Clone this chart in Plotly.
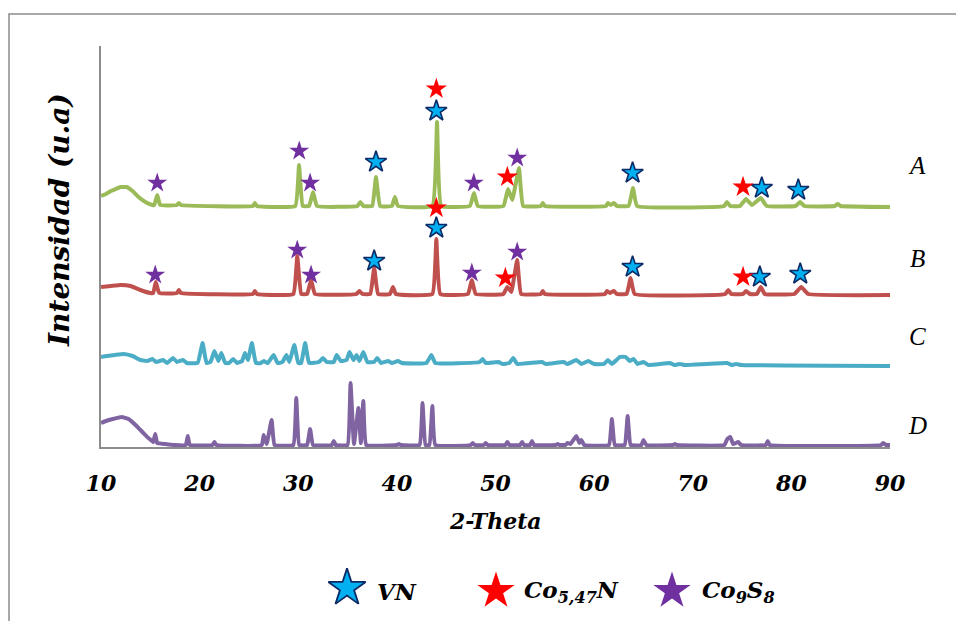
import plotly.graph_objects as go

# ---------------- data (2-theta, intensity in arbitrary units incl. offset) -------------
a_x = [10, 10.5, 11, 11.5, 12, 12.6, 13.2, 13.8, 14.5, 15.2,
       15.4, 15.7, 16.0, 17.7, 17.9, 18.1, 25.4, 25.6, 25.8,
       29.7, 30.08, 30.45, 31.1, 31.5, 31.9, 36.0, 36.3, 36.6,
       37.5, 37.88, 38.3, 39.5, 39.8, 40.1, 43.6, 44.07, 44.5,
       47.4, 47.82, 48.2, 50.8, 51.27, 51.7, 52.38, 52.8,
       54.6, 54.8, 55.0, 61.2, 61.4, 61.7, 62.0, 62.3,
       63.5, 63.94, 64.35, 73.2, 73.47, 73.8, 74.8, 75.4, 76.0, 76.9, 77.5,
       80.4, 80.9, 81.3, 84.4, 84.7, 85.0, 90]
a_y = [251, 253, 256, 258, 260, 260, 256, 250, 245, 242,
       242, 252, 242, 242, 244, 242, 241, 244, 241,
       241, 282, 241, 241, 255, 241, 241, 245, 241,
       241, 270, 241, 241, 250, 241, 241, 325, 241,
       241, 254, 241, 241, 258, 247, 279, 241,
       241, 244, 241, 241, 244, 242, 244, 241,
       241, 259, 241, 241, 245, 241, 241, 248, 242, 249, 241,
       241, 245, 241, 241, 243, 241, 240]

b_x = [10, 11, 12, 13, 14, 15, 15.3, 15.55, 15.9, 17.7, 17.9, 18.1,
       25.4, 25.6, 25.8, 29.5, 29.9, 30.3, 30.9, 31.3, 31.7,
       35.9, 36.2, 36.5, 37.3, 37.7, 38.1, 39.3, 39.6, 39.9,
       43.6, 44.0, 44.4, 47.2, 47.6, 48.0, 50.8, 51.2, 51.6, 52.2, 52.6,
       54.6, 54.8, 55.0, 61.1, 61.3, 61.6, 62.0, 62.3, 63.3, 63.7, 64.1,
       73.3, 73.6, 73.9, 75.1, 75.4, 75.8, 76.5, 76.9, 77.3,
       80.3, 81.0, 81.7, 90]
b_y = [160, 161, 162, 161, 157, 154, 154, 165, 154, 154, 157, 154,
       153, 156, 153, 153, 191, 153, 153, 167, 153,
       153, 156, 153, 153, 179, 153, 153, 160, 153,
       153, 208, 153, 153, 167, 153, 153, 160, 155, 187, 153,
       153, 156, 153, 153, 156, 154, 156, 153, 153, 169, 153,
       153, 157, 153, 153, 156, 153, 153, 160, 153,
       153, 160, 153, 152]

c_x = [10, 10.6, 11.4, 12.3, 13.2, 14.0, 14.7, 15.2, 15.6, 16.3, 16.7, 17.3, 17.7,
       18.3, 18.7, 19.8, 20.3, 20.7, 21.1, 21.5, 21.9, 22.2, 22.6, 23.0, 23.4, 23.8,
       24.3, 24.6, 24.9, 25.3, 25.7, 26.2, 26.5, 26.9, 27.5, 27.9, 28.4, 28.8, 29.1,
       29.6, 30.0, 30.3, 30.7, 31.1, 32.1, 32.5, 32.9, 33.6, 33.9, 34.3, 34.9, 35.2,
       35.6, 35.9, 36.2, 36.6, 37.0, 37.7, 38.0, 38.4, 39.1, 39.5, 40.1, 40.5,
       43.0, 43.5, 43.9, 48.4, 48.7, 49.0, 50.3, 50.7, 51.4, 51.8, 52.2, 54.7, 55.1,
       56.9, 57.3, 58.2, 58.7, 59.4, 60.0, 61.0, 61.4, 61.8, 62.6, 63.2, 63.6, 64.0,
       64.4, 65.0, 65.5, 67.7, 68.1, 68.7, 69.2, 73.5, 73.9, 74.4, 74.9, 90]
c_y = [90, 91, 92, 93, 91, 87, 86, 88, 85, 87, 84, 89, 85,
       87, 84, 84, 104, 84, 85, 96, 86, 94, 84, 84, 88, 84,
       86, 94, 87, 104, 84, 84, 86, 84, 92, 84, 85, 92, 85,
       102, 84, 84, 104, 84, 85, 89, 85, 85, 92, 86, 87, 95,
       87, 92, 86, 95, 85, 85, 89, 84, 86, 84, 86, 84,
       84, 92, 84, 85, 88, 84, 85, 83, 84, 89, 83, 85, 83,
       85, 83, 87, 83, 86, 83, 83, 87, 83, 90, 90, 86, 88,
       83, 85, 82, 84, 82, 83, 82, 84, 82, 83, 82, 81]

d_x = [10, 10.5, 11.2, 12.1, 12.8, 13.5, 14.2, 14.8, 15.2, 15.3, 15.5, 15.7, 16.5, 17.5,
       18.6, 18.8, 19.0, 21.3, 21.5, 21.7, 26.3, 26.5, 26.8, 27.3, 27.6,
       29.5, 29.8, 30.1, 30.9, 31.2, 31.5, 33.4, 33.6, 33.8,
       35.0, 35.3, 35.65, 36.1, 36.35, 36.6, 36.9, 40.0, 40.2, 40.4,
       42.3, 42.6, 42.9, 43.3, 43.6, 43.9, 47.5, 47.7, 47.9, 48.8, 49.0, 49.2,
       51.0, 51.2, 51.4, 52.5, 52.7, 52.9, 53.5, 53.7, 53.9,
       56.1, 56.3, 56.5, 57.1, 57.3, 57.6, 58.2, 58.5, 58.7, 59.0,
       61.5, 61.8, 62.1, 63.1, 63.4, 63.7, 64.8, 65.0, 65.3, 68.0, 68.2, 68.4,
       73.2, 73.5, 73.8, 74.1, 74.6, 74.9, 77.4, 77.6, 77.8, 89.1, 89.3, 89.6, 90]
d_y = [24, 26, 28, 30, 28, 22, 15, 9, 6, 5, 13, 4, 3, 2,
       2, 11, 2, 2, 5, 2, 2, 12, 3, 27, 2,
       2, 49, 2, 2, 18, 2, 2, 6, 2,
       2, 64, 3, 39, 4, 46, 2, 2, 3, 2,
       2, 44, 2, 2, 41, 2, 2, 4, 2, 2, 4, 2,
       2, 5, 2, 2, 5, 2, 2, 6, 2,
       2, 3, 2, 2, 4, 3, 11, 4, 7, 2,
       2, 28, 2, 2, 31, 2, 2, 7, 2, 2, 3, 2,
       2, 8, 10, 3, 5, 2, 2, 6, 2, 2, 4, 2, 2]

# phase markers (stars) for patterns A and B
vn_x = [37.88, 44.0, 63.9, 77.0, 80.7, 37.7, 44.0, 63.9, 76.8, 80.9]
vn_y = [285, 336, 274, 259, 257, 186, 219, 180, 170, 173]
con_x = [44.0, 51.2, 75.1, 44.0, 51.0, 75.1]
con_y = [358, 270, 260, 239, 169, 170]
cos_x = [15.7, 30.1, 31.2, 47.8, 52.2, 15.5, 29.9, 31.3, 47.6, 52.2]
cos_y = [264, 296, 264, 264, 289, 172, 197, 172, 174, 195]

x_ticks = [10, 20, 30, 40, 50, 60, 70, 80, 90]
pattern_labels = ["A", "B", "C", "D"]
legend_names = ["VN", "Co<sub>5,47</sub>N", "Co<sub>9</sub>S<sub>8</sub>"]

# ---------------- styling ----------------
GREEN, RED, TEAL, PURPLE = "#9BBB59", "#C0504D", "#4BACC6", "#8064A2"
VN_FILL, VN_EDGE = "#00B0F0", "#0B2A66"
CON_FILL, COS_FILL = "#FF0000", "#7030A0"
GRID = "#8C8C8C"
SERIF = "DejaVu Serif"

W, H = 956, 621
ML, MR, MT, MB = 101, 66, 46, 10
PW, PH = W - ML - MR, H - MT - MB


def xp(px):
    return (px - ML) / PW


def yp(py):
    return (H - MB - py) / PH


fig = go.Figure()
for xs, ys, col in [(a_x, a_y, GREEN), (b_x, b_y, RED), (c_x, c_y, TEAL), (d_x, d_y, PURPLE)]:
    fig.add_trace(go.Scatter(x=xs, y=ys, mode="lines",
                             line=dict(color=col, width=4, shape="spline", smoothing=0.3),
                             showlegend=False, hoverinfo="skip"))

fig.add_trace(go.Scatter(x=cos_x, y=cos_y, mode="markers", showlegend=False,
                         marker=dict(symbol="star", size=15, color=COS_FILL, line=dict(width=0))))
fig.add_trace(go.Scatter(x=vn_x, y=vn_y, mode="markers", showlegend=False,
                         marker=dict(symbol="star", size=16, color=VN_FILL,
                                     line=dict(width=1.6, color=VN_EDGE))))
fig.add_trace(go.Scatter(x=con_x, y=con_y, mode="markers", showlegend=False,
                         marker=dict(symbol="star", size=16, color=CON_FILL, line=dict(width=0))))

# custom legend (pixel-space helper axes)
leg_px = [347, 496, 672]
leg_py = [588, 591, 591]
leg_cols = [VN_FILL, CON_FILL, COS_FILL]
leg_edges = [VN_EDGE, CON_FILL, COS_FILL]
leg_lw = [1.8, 0, 0]
for i in range(3):
    fig.add_trace(go.Scatter(x=[leg_px[i]], y=[leg_py[i]], xaxis="x2", yaxis="y2",
                             mode="markers", showlegend=False, hoverinfo="skip",
                             marker=dict(symbol="star", size=28, color=leg_cols[i],
                                         line=dict(width=leg_lw[i], color=leg_edges[i]))))

leg_text_px = [375, 522, 700]
for i in range(3):
    fig.add_annotation(x=xp(leg_text_px[i]), y=yp(591), xref="paper", yref="paper",
                       text=legend_names[i], showarrow=False, xanchor="left", yanchor="middle",
                       font=dict(family=SERIF, size=23, color="black", weight="bold", style="italic"))

lab_py = [165, 258, 336, 426]
for lab, py in zip(pattern_labels, lab_py):
    fig.add_annotation(x=xp(917), y=yp(py), xref="paper", yref="paper", text=lab,
                       showarrow=False, xanchor="center", yanchor="middle",
                       font=dict(family="Liberation Serif", size=25, color="black", style="italic"))

fig.add_annotation(x=xp(495), y=yp(521), xref="paper", yref="paper", text="2-Theta",
                   showarrow=False, xanchor="center", yanchor="middle",
                   font=dict(family=SERIF, size=22, color="black", weight="bold", style="italic"))
fig.add_annotation(x=xp(60), y=yp(220), xref="paper", yref="paper", text="Intensidad (u.a)",
                   showarrow=False, textangle=-90, xanchor="center", yanchor="middle",
                   font=dict(family=SERIF, size=28, color="black", weight="bold", style="italic"))

# outer frame
fig.add_shape(type="rect", xref="paper", yref="paper", x0=xp(9), x1=xp(980), y0=yp(14), y1=yp(650),
              line=dict(color=GRID, width=1.5), fillcolor="rgba(0,0,0,0)", layer="below")

fig.update_layout(
    width=W, height=H, margin=dict(l=ML, r=MR, t=MT, b=MB),
    paper_bgcolor="white", plot_bgcolor="rgba(0,0,0,0)",
    showlegend=False,
    xaxis=dict(range=[10, 90], tickvals=x_ticks, ticktext=[str(v) for v in x_ticks],
               showgrid=False, zeroline=False, showline=True, linecolor=GRID, linewidth=1.5,
               ticks="", ticklabelstandoff=16, anchor="y",
               tickfont=dict(family=SERIF, size=22, color="black", weight="bold", style="italic")),
    yaxis=dict(range=[0, 401], domain=[yp(447), 1.0], showgrid=False, zeroline=False,
               showline=True, linecolor=GRID, linewidth=1.5, showticklabels=False, ticks="",
               anchor="x"),
    xaxis2=dict(range=[ML, W - MR], domain=[0, 1], visible=False, anchor="y2", fixedrange=True),
    yaxis2=dict(range=[H - MB, MT], domain=[0, 1], visible=False, anchor="x2", fixedrange=True),
)

fig.write_html("out.html")
